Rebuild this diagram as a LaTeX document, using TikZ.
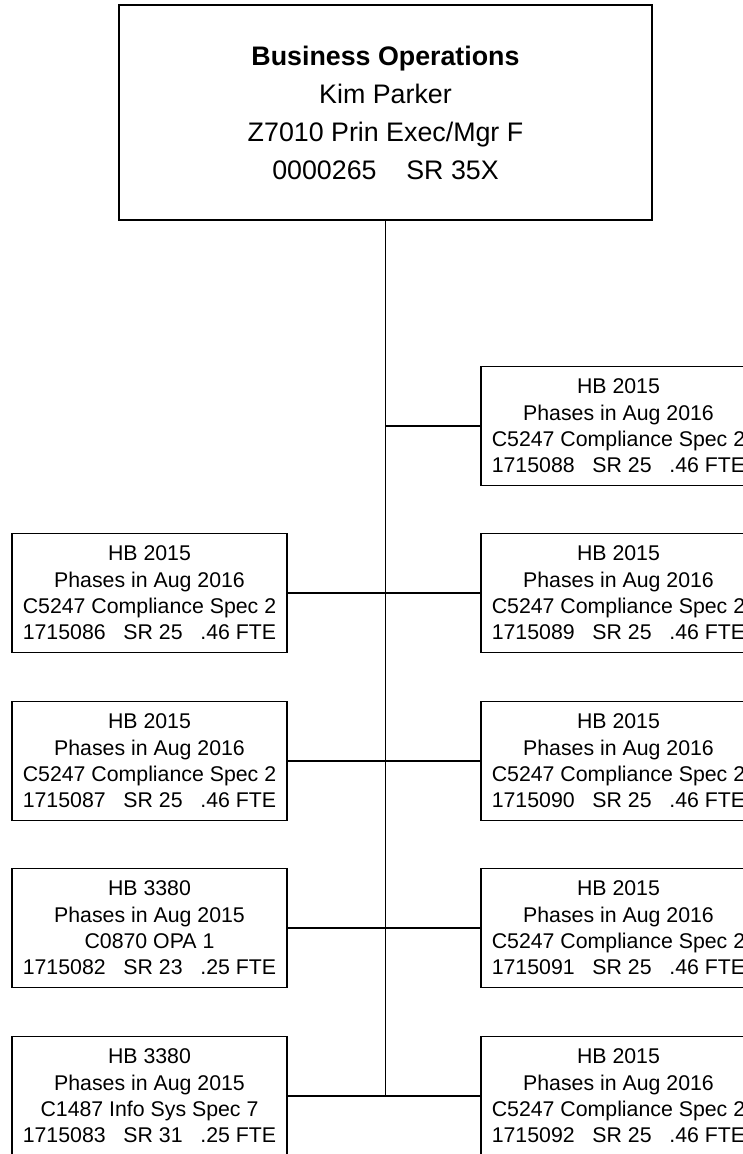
\documentclass[tikz,border=0pt]{standalone}
\usepackage{fontspec}
\setmainfont{Liberation Sans}
\usetikzlibrary{positioning}
\begin{document}
\begin{tikzpicture}[
    x=1pt, y=-1pt,
    headbox/.style={
        rectangle,
        draw=black,
        line width=1.4pt,
        minimum width=533pt,
        minimum height=215pt,
        font=\fontsize{26.8}{38}\selectfont,
        align=center
    },
    posbox/.style={
        rectangle,
        draw=black,
        line width=1.4pt,
        minimum width=275pt,
        minimum height=119pt,
        font=\fontsize{21.3}{26.3}\selectfont,
        align=center
    },
    link/.style={line width=1.4pt},
]
\useasboundingbox (0,0) rectangle (743,1154);
\clip (0,0) rectangle (743,1154);

% Head
\node[headbox] (ops) at (385.5,112.5)
{\textbf{Business Operations}\\Kim Parker\\Z7010 Prin Exec/Mgr F\\0000265\ \ \ \ SR 35X};

% Left column
\node[posbox] (l2) at (149.5,593)
{HB 2015\\Phases in Aug 2016\\C5247 Compliance Spec 2\\1715086\ \ \ SR 25\ \ \ .46 FTE};
\node[posbox] (l3) at (149.5,761)
{HB 2015\\Phases in Aug 2016\\C5247 Compliance Spec 2\\1715087\ \ \ SR 25\ \ \ .46 FTE};
\node[posbox] (l4) at (149.5,928)
{HB 3380\\Phases in Aug 2015\\C0870 OPA 1\\1715082\ \ \ SR 23\ \ \ .25 FTE};
\node[posbox] (l5) at (149.5,1096)
{HB 3380\\Phases in Aug 2015\\C1487 Info Sys Spec 7\\1715083\ \ \ SR 31\ \ \ .25 FTE};

% Right column
\node[posbox] (r1) at (618.5,426)
{HB 2015\\Phases in Aug 2016\\C5247 Compliance Spec 2\\1715088\ \ \ SR 25\ \ \ .46 FTE};
\node[posbox] (r2) at (618.5,593)
{HB 2015\\Phases in Aug 2016\\C5247 Compliance Spec 2\\1715089\ \ \ SR 25\ \ \ .46 FTE};
\node[posbox] (r3) at (618.5,761)
{HB 2015\\Phases in Aug 2016\\C5247 Compliance Spec 2\\1715090\ \ \ SR 25\ \ \ .46 FTE};
\node[posbox] (r4) at (618.5,928)
{HB 2015\\Phases in Aug 2016\\C5247 Compliance Spec 2\\1715091\ \ \ SR 25\ \ \ .46 FTE};
\node[posbox] (r5) at (618.5,1096)
{HB 2015\\Phases in Aug 2016\\C5247 Compliance Spec 2\\1715092\ \ \ SR 25\ \ \ .46 FTE};

% Lines
\coordinate (trunk) at (ops.south |- r5.west);
\draw[link] (ops.south) -- (trunk);
\draw[link] (ops.south |- r1.west) -- (r1.west);
\draw[link] (l2.east) -- (r2.west);
\draw[link] (l3.east) -- (r3.west);
\draw[link] (l4.east) -- (r4.west);
\draw[link] (l5.east) -- (r5.west);

\end{tikzpicture}
\end{document}
